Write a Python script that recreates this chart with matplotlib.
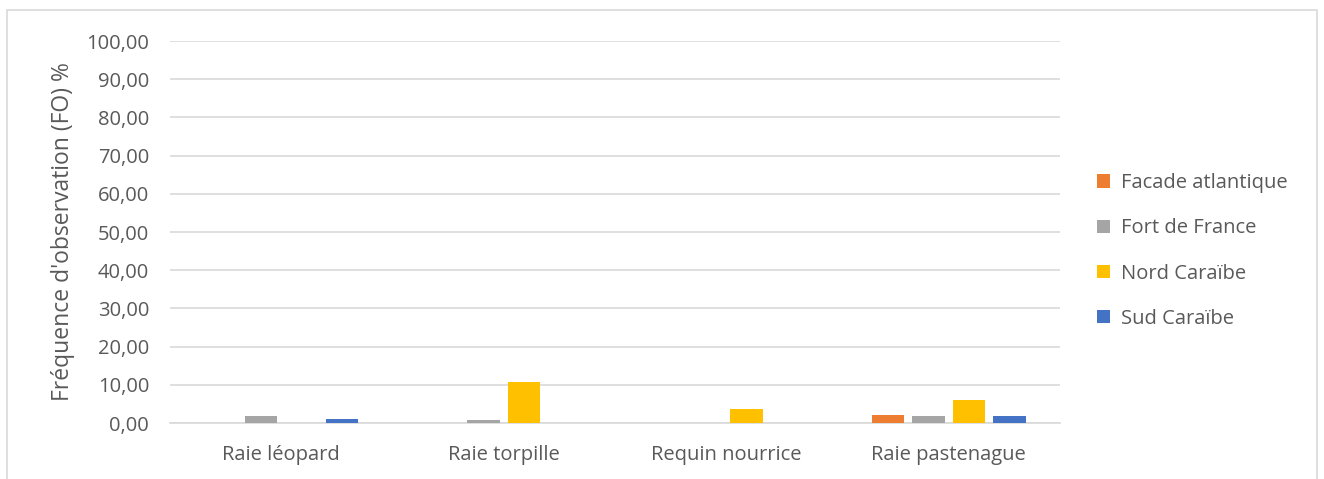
import numpy as np
import matplotlib
matplotlib.use("Agg")
import matplotlib.pyplot as plt
from matplotlib.patches import Rectangle

plt.rcParams['font.family'] = ['Open Sans', 'DejaVu Sans']

categories = ["Raie léopard", "Raie torpille", "Requin nourrice", "Raie pastenague"]
series_names = ["Facade atlantique", "Fort de France", "Nord Caraïbe", "Sud Caraïbe"]
facade_atlantique = [0.0, 0.0, 0.0, 2.1]
fort_de_france = [1.8, 0.7, 0.0, 1.8]
nord_caraibe = [0.0, 10.8, 3.6, 6.1]
sud_caraibe = [1.15, 0.0, 0.0, 1.75]
colors = ["#ED7D31", "#A5A5A5", "#FFC000", "#4472C4"]
yticks = [0, 10, 20, 30, 40, 50, 60, 70, 80, 90, 100]
ytick_labels = ["0,00", "10,00", "20,00", "30,00", "40,00", "50,00",
                "60,00", "70,00", "80,00", "90,00", "100,00"]

fig = plt.figure(figsize=(13.24, 4.79), dpi=100)
fig.patches.append(Rectangle((0.005, -0.01), 0.99, 0.99, transform=fig.transFigure,
                             fill=False, edgecolor="#D9D9D9", linewidth=1.2))
ax = fig.add_axes([0.1284, 0.1169, 0.6722, 0.7975])

x = np.arange(len(categories))
pitch = 0.182
width = 0.145
all_series = [facade_atlantique, fort_de_france, nord_caraibe, sud_caraibe]
for i, (name, vals, c) in enumerate(zip(series_names, all_series, colors)):
    ax.bar(x + (i - 1.5) * pitch, vals, width, color=c, label=name, zorder=3)

ax.set_xlim(-0.5, len(categories) - 0.5)
ax.set_ylim(0, 100)
ax.set_yticks(yticks)
ax.set_yticklabels(ytick_labels)
ax.set_xticks(x)
ax.set_xticklabels(categories)
ax.grid(axis="y", color="#D9D9D9", linewidth=1.2, zorder=0)
for s in ["top", "right", "left"]:
    ax.spines[s].set_visible(False)
ax.spines["bottom"].set_color("#D9D9D9")
ax.spines["bottom"].set_linewidth(1.2)
ax.tick_params(axis="both", length=0, labelsize=14.5, colors="#595959")
ax.tick_params(axis="y", pad=15)
ax.tick_params(axis="x", pad=16)
ax.set_ylabel("Fréquence d'observation (FO) %", fontsize=16.5, color="#595959", labelpad=8)

leg = fig.legend(loc="center left", bbox_to_anchor=(0.815, 0.476), frameon=False,
                 fontsize=14.5, handlelength=0.65, handleheight=0.65,
                 labelspacing=1.25, handletextpad=0.55)
for t in leg.get_texts():
    t.set_color("#595959")

fig.savefig("out.png", dpi=100)
